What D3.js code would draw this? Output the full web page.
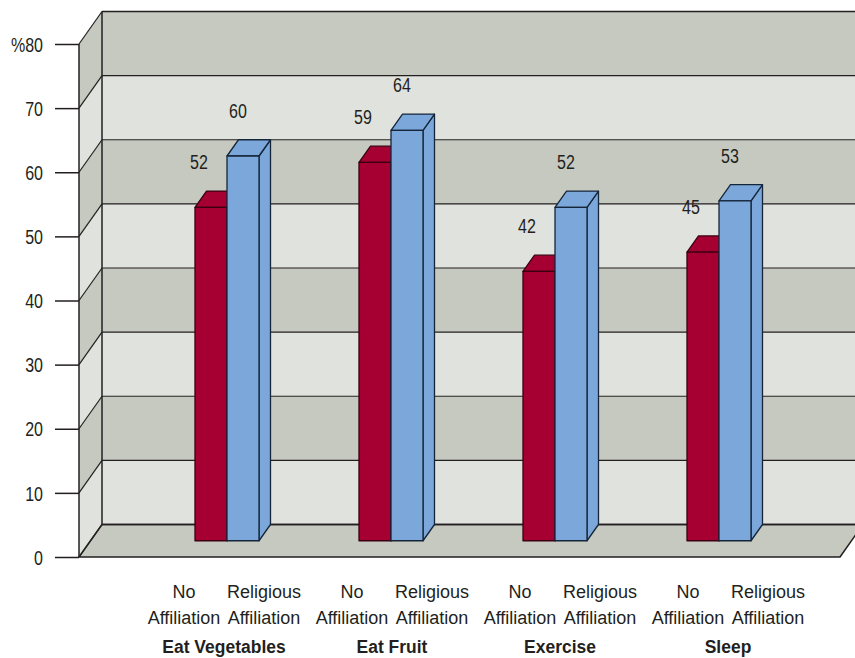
<!DOCTYPE html>
<html>
<head>
<meta charset="utf-8">
<script src="https://cdn.jsdelivr.net/npm/d3@7"></script>
<style>
  body { margin: 0; background: #fff; }
  svg { display: block; }
  text { font-family: "Liberation Sans", Arial, sans-serif; fill: #231f20; }
</style>
</head>
<body>
<div id="container"></div>
<script>
const categories = ["Eat Vegetables", "Eat Fruit", "Exercise", "Sleep"];
const seriesNames = ["No Affiliation", "Religious Affiliation"];
const subLabels = [["No", "Affiliation"], ["Religious", "Affiliation"]];
const noAffiliation = [52, 59, 42, 45];
const religiousAffiliation = [60, 64, 52, 53];
const yTicks = [0, 10, 20, 30, 40, 50, 60, 70, 80];
const tickLabels = ["0", "10", "20", "30", "40", "50", "60", "70", "%80"];

const width = 855;
const height = 658;

const front = {left: 79, right: 840};
const depth = {dx: 23, dy: -32.5};
const barDepth = [0.5, 1];
const narrow = 0.8;   // squeeze text to look like a condensed face

const colors = {
  dark: "#c6c9bf",
  light: "#e0e2dd",
  red: "#a60032",
  redStroke: "#3b0012",
  blue: "#7ba7da",
  blueStroke: "#16263a",
  line: "#231f20"
};

const svg = d3.select("#container").append("svg")
    .attr("width", width)
    .attr("height", height);

//----------------------------SCALES----------------------------//
const yScale = d3.scaleLinear().domain([0, 80]).range([557, 44]);

// bars sit between mid depth and the back wall
const xBars = d3.scaleBand().domain(categories).range([145, 801]);
const xSeries = d3.scaleBand().domain(seriesNames).range([-32, 32]);
const xLabels = d3.scaleBand().domain(categories).range([140, 812]);

function pt(x, v, z) {
  return [x + z * depth.dx, yScale(v) + z * depth.dy];
}
const poly = pts => "M" + pts.map(p => p.join(",")).join("L") + "Z";

//--------------------------BACK WALL---------------------------//
const bands = d3.pairs(yTicks);
const wall = svg.append("g");

wall.selectAll(".back-band")
  .data(bands)
  .enter().append("path")
    .attr("d", d => poly([pt(front.left, d[0], 1), pt(width + 20, d[0], 1),
                          pt(width + 20, d[1], 1), pt(front.left, d[1], 1)]))
    .attr("fill", (d, i) => i % 2 ? colors.dark : colors.light);

wall.selectAll(".side-band")
  .data(bands)
  .enter().append("path")
    .attr("d", d => poly([pt(front.left, d[0], 0), pt(front.left, d[0], 1),
                          pt(front.left, d[1], 1), pt(front.left, d[1], 0)]))
    .attr("fill", (d, i) => i % 2 ? colors.dark : colors.light);

// floor
wall.append("path")
    .attr("d", poly([pt(front.left, 0, 0), pt(front.left, 0, 1),
                     pt(front.right, 0, 1), pt(front.right, 0, 0)]))
    .attr("fill", colors.dark)
    .attr("stroke", colors.line)
    .attr("stroke-width", 1.5)
    .attr("stroke-linejoin", "round");

// grid lines back wall
wall.selectAll(".grid-back")
  .data(yTicks)
  .enter().append("line")
    .attr("x1", d => pt(front.left, d, 1)[0])
    .attr("x2", width + 20)
    .attr("y1", d => pt(front.left, d, 1)[1])
    .attr("y2", d => pt(front.left, d, 1)[1])
    .attr("stroke", colors.line)
    .attr("stroke-width", d => d === 0 || d === 80 ? 1.5 : 1.2);

// grid lines side wall
wall.selectAll(".grid-side")
  .data(yTicks)
  .enter().append("line")
    .attr("x1", d => pt(front.left, d, 0)[0])
    .attr("y1", d => pt(front.left, d, 0)[1])
    .attr("x2", d => pt(front.left, d, 1)[0])
    .attr("y2", d => pt(front.left, d, 1)[1])
    .attr("stroke", colors.line)
    .attr("stroke-width", 1.2);

// wall edges
[0, 1].forEach(z => {
  wall.append("line")
      .attr("x1", pt(front.left, 0, z)[0])
      .attr("y1", pt(front.left, 0, z)[1])
      .attr("x2", pt(front.left, 80, z)[0])
      .attr("y2", pt(front.left, 80, z)[1])
      .attr("stroke", colors.line)
      .attr("stroke-width", 1.5);
});

//-----------------------------AXIS-----------------------------//
const yAxis = d3.axisLeft(yScale)
    .tickValues(yTicks)
    .tickSize(24)
    .tickPadding(12)
    .tickFormat((d, i) => tickLabels[i]);

const axisG = svg.append("g")
    .attr("transform", "translate(" + front.left + ",0)")
    .call(yAxis);
axisG.select(".domain").remove();
axisG.selectAll(".tick line").attr("stroke", colors.line).attr("stroke-width", 1.5);
axisG.selectAll(".tick text")
    .attr("fill", colors.line)
    .attr("x", 0)
    .attr("dy", "0.36em")
    .attr("transform", "translate(-36,0) scale(" + narrow + ",1)")
    .style("font-family", "'Liberation Sans', Arial, sans-serif")
    .style("font-size", "20px");

//-----------------------------BARS-----------------------------//
const barData = [];
categories.forEach((c, i) => {
  barData.push({cat: c, series: seriesNames[0], value: noAffiliation[i], fill: colors.red, stroke: colors.redStroke, labelDx: 4});
  barData.push({cat: c, series: seriesNames[1], value: religiousAffiliation[i], fill: colors.blue, stroke: colors.blueStroke, labelDx: 11});
});

const bars = svg.selectAll(".bar")
  .data(barData)
  .enter().append("g")
    .attr("class", "bar");

function barX(d) {
  return xBars(d.cat) + xBars.bandwidth() / 2 + xSeries(d.series);
}

bars.each(function(d) {
  const g = d3.select(this);
  const x0 = barX(d) - pt(0, 0, barDepth[0])[0];
  const x1 = x0 + xSeries.bandwidth();
  const z0 = barDepth[0], z1 = barDepth[1];
  // side
  g.append("path")
      .attr("d", poly([pt(x1, 0, z0), pt(x1, 0, z1), pt(x1, d.value, z1), pt(x1, d.value, z0)]))
      .attr("fill", d.fill).attr("stroke", d.stroke).attr("stroke-width", 1.3)
      .attr("stroke-linejoin", "round");
  // top
  g.append("path")
      .attr("d", poly([pt(x0, d.value, z0), pt(x0, d.value, z1), pt(x1, d.value, z1), pt(x1, d.value, z0)]))
      .attr("fill", d.fill).attr("stroke", d.stroke).attr("stroke-width", 1.3)
      .attr("stroke-linejoin", "round");
  // front
  g.append("path")
      .attr("d", poly([pt(x0, 0, z0), pt(x1, 0, z0), pt(x1, d.value, z0), pt(x0, d.value, z0)]))
      .attr("fill", d.fill).attr("stroke", d.stroke).attr("stroke-width", 1.3)
      .attr("stroke-linejoin", "round");
});

// value labels
bars.append("text")
    .attr("transform", d => "translate(" + (barX(d) + d.labelDx) + ","
                              + (pt(0, d.value, barDepth[0])[1] - 38) + ") scale(" + narrow + ",1)")
    .attr("text-anchor", "middle")
    .style("font-size", "20px")
    .text(d => d.value);

//---------------------------LABELS-----------------------------//
const labelG = svg.selectAll(".cat-label")
  .data(categories)
  .enter().append("g")
    .attr("transform", d => "translate(" + (xLabels(d) + xLabels.bandwidth() / 2) + ",0)");

seriesNames.forEach((s, si) => {
  labelG.append("text")
      .attr("x", si === 0 ? -40 : 40)
      .attr("text-anchor", "middle")
      .style("font-size", "18px")
      .selectAll("tspan")
      .data(subLabels[si])
      .enter().append("tspan")
        .attr("x", si === 0 ? -40 : 40)
        .attr("y", (t, i) => 598 + i * 26)
        .text(t => t);
});

labelG.append("text")
    .attr("transform", "translate(0,653) scale(0.92,1)")
    .attr("text-anchor", "middle")
    .style("font-size", "19px")
    .style("font-weight", "bold")
    .text(d => d);
</script>
</body>
</html>
